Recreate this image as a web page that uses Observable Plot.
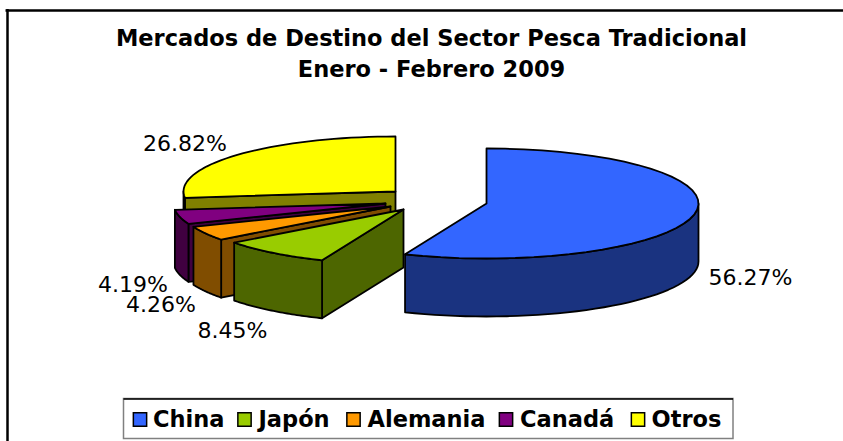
<!DOCTYPE html>
<html><head><meta charset="utf-8">
<style>html,body{margin:0;padding:0;background:#fff}svg{display:block}</style>
<script src="https://cdn.jsdelivr.net/npm/d3@7"></script>
<script src="https://cdn.jsdelivr.net/npm/@observablehq/plot@0.6"></script>
</head><body><script>
const categories = ["China", "Japón", "Alemania", "Canadá", "Otros"];
const shares = [56.27, 8.45, 4.26, 4.19, 26.82];
const shareLabels = ["56.27%", "8.45%", "4.26%", "4.19%", "26.82%"];
const topColors = ["#3366FF", "#99CC00", "#FF9900", "#800080", "#FFFF00"];
const sideColors = ["#1A3380", "#4D6600", "#804D00", "#400040", "#808000"];
const titleLines = ["Mercados de Destino del Sector Pesca Tradicional", "Enero - Febrero 2009"];

// Layout of the exploded 3D pie (pixel-based chart space)
const W = 843, H = 441;
const rx = 212, ry = 55, depth = 58;
const apexX = [486, 403, 390, 385, 395];
const apexY = [203, 209, 206, 203, 191];
const labelX = [750, 232, 160.5, 132.5, 184.5];
const labelY = [277, 330, 304, 284, 143];
const legendSwatchX = [139.5, 244, 353, 505.5, 637.5];
const legendTextX = [152.5, 258, 367, 519.5, 651];

const total = d3.sum(shares);
let acc = 0;
const slices = categories.map((name, i) => {
  const a0 = acc / total * 2 * Math.PI; acc += shares[i];
  const a1 = acc / total * 2 * Math.PI;
  return {name, i, a0, a1};
});
const P = (i, a) => ({x: apexX[i] + rx * Math.sin(a), y: apexY[i] - ry * Math.cos(a)});
const arc = (i, a0, a1) => d3.range(0, 41).map(k => P(i, a0 + (a1 - a0) * k / 40));
const down = p => ({x: p.x, y: p.y + depth});

function faceMarks(s) {
  const {i, a0, a1} = s, marks = [];
  const line = (pts, fill) => Plot.line([...pts, pts[0]], {x: "x", y: "y", fill, stroke: "#000", strokeWidth: 1.8, strokeLinejoin: "round"});
  // radial cut face seen from the front
  if (a0 > Math.PI) {
    const c = {x: apexX[i], y: apexY[i]}, r = P(i, a0);
    marks.push(line([c, r, down(r), down(c)], sideColors[i]));
  }
  // visible part of the outer wall
  const b0 = Math.max(a0, Math.PI / 2), b1 = Math.min(a1, 3 * Math.PI / 2);
  if (b1 > b0) {
    const top = arc(i, b0, b1);
    marks.push(line([...top, ...top.map(down).reverse()], sideColors[i]));
  }
  // top face
  marks.push(line([{x: apexX[i], y: apexY[i]}, ...arc(i, a0, a1)], topColors[i]));
  return marks;
}
const drawOrder = [4, 3, 2, 1, 0];

// The frame runs off the right and bottom edges of the picture
const frameTop = [{x1: 5.5, x2: W, y: 10}];
const frameLeft = [{x: 7, y1: 9, y2: H}];
// Legend box: black top edge, grey shadowed sides
const legendBox = [{x1: 123.5, x2: 733, y1: 398.5, y2: 438.5}];

const chart = Plot.plot({
  width: W, height: H, margin: 0,
  x: {domain: [0, W], range: [0, W], axis: null},
  y: {domain: [0, H], range: [0, H], axis: null},
  marks: [
    Plot.ruleY(frameTop, {x1: "x1", x2: "x2", y: "y", stroke: "#000", strokeWidth: 2.5}),
    Plot.ruleX(frameLeft, {x: "x", y1: "y1", y2: "y2", stroke: "#000", strokeWidth: 2.5}),
    ...drawOrder.flatMap(i => faceMarks(slices[i])),
    Plot.text(titleLines, {x: () => 431, y: (d, i) => 38 + i * 31, text: d => d, fontFamily: "DejaVu Sans", fontWeight: "bold", fontSize: 22.5, fill: "#000"}),
    Plot.text(shareLabels, {x: (d, i) => labelX[i], y: (d, i) => labelY[i], text: d => d, fontFamily: "DejaVu Sans", fontSize: 22, fill: "#000"}),
    Plot.rect(legendBox, {x1: "x1", x2: "x2", y1: "y1", y2: "y2", fill: "#fff", stroke: "#808080", strokeWidth: 1.5}),
    Plot.ruleY(legendBox, {x1: "x1", x2: "x2", y: "y1", stroke: "#000", strokeWidth: 1.5}),
    Plot.dot(categories, {x: (d, i) => legendSwatchX[i], y: () => 419, symbol: "square", r: 7.5, fill: (d, i) => topColors[i], stroke: "#000", strokeWidth: 1.5}),
    Plot.text(categories, {x: (d, i) => legendTextX[i], y: () => 419, text: d => d, textAnchor: "start", fontFamily: "DejaVu Sans", fontWeight: "bold", fontSize: 22.5, fill: "#000"})
  ]
});
document.body.appendChild(chart);
</script></body></html>
